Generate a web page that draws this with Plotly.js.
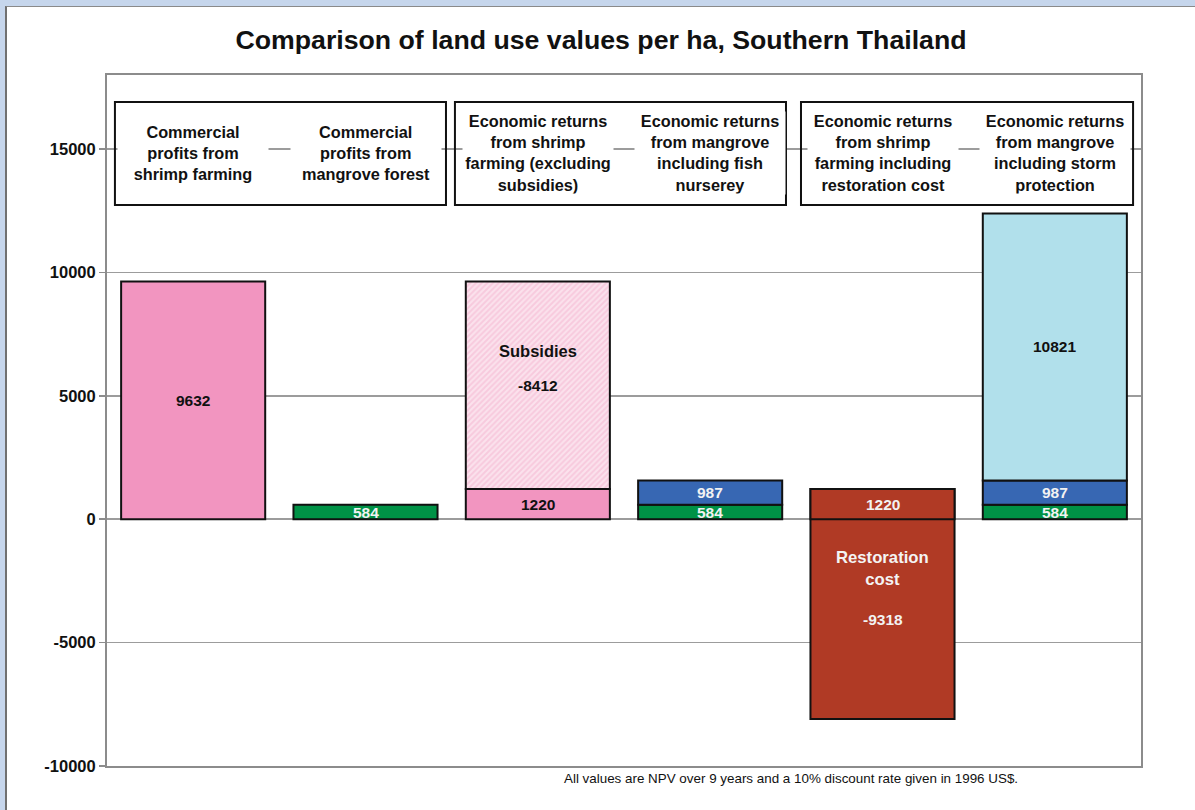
<!DOCTYPE html>
<html>
<head>
<meta charset="utf-8">
<script src="https://cdn.plot.ly/plotly-3.0.1.min.js"></script>
<style>
  html, body { margin: 0; padding: 0; background: #c6d6ec; width: 1195px; height: 810px; overflow: hidden; }
  #chart { position: absolute; left: 5px; top: 6px; width: 1188px; height: 803px;
           border-left: 2px solid #707070; border-top: 1px solid #8a8a8a; background: #fff; }
</style>
</head>
<body>
<div id="chart"></div>
<script>
// ---- data ----
const categories = [
  "Commercial<br>profits from<br>shrimp farming",
  "Commercial<br>profits from<br>mangrove forest",
  "Economic returns<br>from shrimp<br>farming (excluding<br>subsidies)",
  "Economic returns<br>from mangrove<br>including fish<br>nurserey",
  "Economic returns<br>from shrimp<br>farming including<br>restoration cost",
  "Economic returns<br>from mangrove<br>including storm<br>protection"
];
const catIndex = [0, 1, 2, 3, 4, 5];
const shrimpProfit = 9632;          // commercial profits, shrimp farming
const mangroveProfit = 584;         // commercial profits, mangrove forest
const shrimpExclSubsidies = 1220;   // shrimp returns without subsidies
const subsidies = -8412;            // subsidies removed
const fishNursery = 987;            // mangrove fish nursery value
const restorationCost = -9318;      // restoration cost
const stormProtection = 10821;      // mangrove storm protection value
const yTicks = [-10000, -5000, 0, 5000, 10000, 15000];
const footnote = "All values are NPV over 9 years and a 10% discount rate given in 1996 US$.";
const chartTitle = "Comparison of land use values per ha, Southern Thailand";

// ---- style ----
const PINK = "#f295c0", GREEN = "#009246", BLUE = "#3767b3", LBLUE = "#b1e0eb", RED = "#b03a25";
const OUT = {color: "#111", width: 2};
const FONT = "Liberation Sans, Arial, sans-serif";
const BAR_W = 0.836;

function bar(xs, ys, bases, marker) {
  return {type: "bar", x: xs, y: ys, base: bases, width: xs.map(() => BAR_W),
          marker: marker, hoverinfo: "skip", showlegend: false};
}

const traces = [
  bar([catIndex[0], catIndex[2]], [shrimpProfit, shrimpExclSubsidies], [0, 0], {color: PINK, line: OUT}),
  bar([catIndex[2]], [-subsidies], [shrimpExclSubsidies],
      {color: "#fbe2ed", line: OUT,
       pattern: {shape: "/", fgcolor: "#f4b1ce", size: 4, solidity: 0.5, fillmode: "overlay"}}),
  bar([catIndex[1], catIndex[3], catIndex[5]], [mangroveProfit, mangroveProfit, mangroveProfit], [0, 0, 0],
      {color: GREEN, line: OUT}),
  bar([catIndex[3], catIndex[5]], [fishNursery, fishNursery], [mangroveProfit, mangroveProfit],
      {color: BLUE, line: OUT}),
  bar([catIndex[5]], [stormProtection], [mangroveProfit + fishNursery], {color: LBLUE, line: OUT}),
  bar([catIndex[4]], [restorationCost], [shrimpExclSubsidies], {color: RED, line: OUT}),
  bar([catIndex[4]], [shrimpExclSubsidies], [0], {color: RED, line: OUT})
];

const BLACK = {family: FONT, size: 15.5, color: "#111", weight: 700};
const WHITE = {family: FONT, size: 15.5, color: "#f2f2f2", weight: 700};
function lab(x, y, text, opts) {
  return Object.assign({x: x, y: y, xref: "x", yref: "y", text: text, showarrow: false, font: BLACK}, opts || {});
}

const annotations = [
  lab(catIndex[0], shrimpProfit / 2, String(shrimpProfit)),
  lab(catIndex[1], mangroveProfit / 2, String(mangroveProfit), {font: WHITE}),
  lab(catIndex[3], mangroveProfit / 2, String(mangroveProfit), {font: WHITE}),
  lab(catIndex[5], mangroveProfit / 2, String(mangroveProfit), {font: WHITE}),
  lab(catIndex[3], mangroveProfit + fishNursery / 2, String(fishNursery), {font: WHITE}),
  lab(catIndex[5], mangroveProfit + fishNursery / 2, String(fishNursery), {font: WHITE}),
  lab(catIndex[2], shrimpExclSubsidies / 2, String(shrimpExclSubsidies)),
  lab(catIndex[2], shrimpExclSubsidies - subsidies / 2, String(subsidies)),
  lab(catIndex[2], shrimpExclSubsidies - subsidies / 2, "Subsidies",
      {yshift: 34, font: {family: FONT, size: 16.5, color: "#111", weight: 700}}),
  lab(catIndex[5], mangroveProfit + fishNursery + stormProtection / 2, String(stormProtection)),
  lab(catIndex[4], shrimpExclSubsidies / 2, String(shrimpExclSubsidies), {font: WHITE}),
  lab(catIndex[4], (shrimpExclSubsidies + restorationCost) / 2, String(restorationCost), {font: WHITE}),
  lab(catIndex[4], (shrimpExclSubsidies + restorationCost) / 2, "Restoration<br>cost",
      {yshift: 51, font: {family: FONT, size: 16.7, color: "#f4f4f4", weight: 700}}),
  {x: 0.883, y: -0.0185, xref: "paper", yref: "paper", xanchor: "right", yanchor: "middle",
   text: footnote, showarrow: false, font: {family: FONT, size: 13.4, color: "#111"}}
];
// category description texts inside the boxes
categories.forEach((c, i) => {
  annotations.push({x: catIndex[i], y: 0.887, xref: "x", yref: "paper", yanchor: "middle",
    text: c, showarrow: false, bgcolor: "#ffffff", borderpad: 0, width: 150,
    font: {family: FONT, size: 16.3, color: "#111", weight: 700}});
});

// three framing boxes, each around a pair of categories (left offset, right offset)
const boxPairs = [[0, 1, 0.454, 0.467], [2, 3, 0.481, 0.440], [4, 5, 0.473, 0.454]];
const shapes = boxPairs.map(p => ({type: "rect", xref: "x", yref: "paper",
  x0: catIndex[p[0]] - p[2], x1: catIndex[p[1]] + p[3], y0: 0.812, y1: 0.961,
  line: {color: "#111", width: 2}, fillcolor: "rgba(0,0,0,0)", layer: "above"}));

const layout = {
  width: 1188, height: 803,
  margin: {l: 100, r: 54, t: 68, b: 44, pad: 0},
  paper_bgcolor: "#ffffff", plot_bgcolor: "#ffffff",
  title: {text: chartTitle, x: 0.5, xref: "container", y: 0.959, yref: "container", yanchor: "middle",
          font: {family: FONT, size: 26.7, color: "#111", weight: 700}},
  barmode: "overlay",
  xaxis: {range: [-0.5, 5.5], showticklabels: false, ticks: "", showgrid: false, zeroline: false,
          showline: true, mirror: true, linecolor: "#8c8c8c", linewidth: 2, fixedrange: true},
  yaxis: {range: [-10000, 18000], tickvals: yTicks, ticktext: yTicks.map(String),
          ticks: "outside", ticklen: 6, tickcolor: "#8c8c8c", tickwidth: 1.5,
          tickfont: {family: FONT, size: 16.5, color: "#111", weight: 700},
          showgrid: true, gridcolor: "#9c9c9c", gridwidth: 1.5,
          zeroline: true, zerolinecolor: "#9c9c9c", zerolinewidth: 1.5,
          showline: true, mirror: true, linecolor: "#8c8c8c", linewidth: 2, fixedrange: true},
  annotations: annotations,
  shapes: shapes
};

Plotly.newPlot("chart", traces, layout, {displayModeBar: false, staticPlot: true});
</script>
</body>
</html>
